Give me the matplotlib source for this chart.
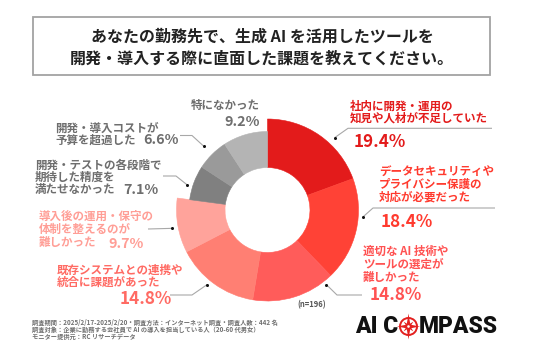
import numpy as np
import matplotlib
matplotlib.use('Agg')
import matplotlib.pyplot as plt
from matplotlib.patches import Wedge, Rectangle, Circle, Polygon

plt.rcParams['font.family'] = ['Noto Sans CJK JP', 'DejaVu Sans']

# ---------------- data ----------------
title_lines = ["あなたの勤務先で、生成 AI を活用したツールを",
               "開発・導入する際に直面した課題を教えてください。"]
categories = ["社内に開発・運用の\n知見や人材が不足していた",
              "データセキュリティや\nプライバシー保護の\n対応が必要だった",
              "適切な AI 技術や\nツールの選定が\n難しかった",
              "既存システムとの連携や\n統合に課題があった",
              "導入後の運用・保守の\n体制を整えるのが\n難しかった",
              "開発・テストの各段階で\n期待した精度を\n満たせなかった",
              "開発・導入コストが\n予算を超過した",
              "特になかった"]
values = [19.4, 18.4, 14.8, 14.8, 9.7, 7.1, 6.6, 9.2]
n_text = "(n=196)"
footer_lines = ["調査期間：2025/2/17-2025/2/20・調査方法：インターネット調査・調査人数：442 名",
                "調査対象：企業に勤務する会社員で AI の導入を担当している人（20-60 代男女）",
                "モニター提供元：RC リサーチデータ"]

# ---------------- style ----------------
slice_colors = ["#E31B1B", "#FF4236", "#FF5C5A", "#FF7F73", "#FFA39B",
                "#808080", "#9A9A9A", "#B4B4B4"]
text_colors = ["#E31B1B", "#FF3A2E", "#FF5252", "#FF6A63", "#FF9E96",
               "#6E6E6E", "#6E6E6E", "#6E6E6E"]
outer_r = [91, 91, 91, 91, 91, 78.5, 78.5, 78.5]
inner_r = 42.5
cx, cy = 267.5, 210

W, H = 536, 357
fig = plt.figure(figsize=(W / 100, H / 100), dpi=100)
fig.patch.set_facecolor("white")
ax = fig.add_axes([0, 0, 1, 1])
ax.set_xlim(0, W)
ax.set_ylim(H, 0)
ax.axis("off")

# title box
ax.add_patch(Rectangle((33, 17), 457, 58, fill=False, ec="#A3A3A3", lw=1.3))
for s, y in zip(title_lines, [36.5, 58.8]):
    ax.text(262, y, s, ha="center", va="center", fontsize=11.5,
            fontweight="bold", color="#222222")

# donut wedges (clockwise from 12 o'clock)
total = sum(values)
cum = np.concatenate([[0], np.cumsum(values)])
mids = []
for i, v in enumerate(values):
    a1 = cum[i] / total * 360.0
    a2 = cum[i + 1] / total * 360.0
    mids.append((a1 + a2) / 2)
    w = Wedge((cx, cy), outer_r[i], a1 - 90, a2 - 90,
              width=outer_r[i] - inner_r, fc=slice_colors[i],
              ec=slice_colors[i], lw=0.4)
    ax.add_patch(w)

# label layout: (x, ha, line y centers, pct x, pct y, pct size)
label_layout = [
    (350, "left", [106.7, 118.5], 354, 142, 12.3),
    (379, "left", [172.5, 184.8, 197.3], 381, 221.7, 12.3),
    (363, "left", [251.7, 264.3, 277.3], 370, 295, 12.3),
    (57, "left", [270.5, 282.5], 120, 299, 12.3),
    (39, "left", [216, 229.3, 242.7], 108, 244.5, 10.3),
    (35, "left", [165, 177.5, 190], 123, 190, 10.3),
    (55, "left", [128, 140.5], 143, 140.5, 10.3),
    (260, "right", [105.5], 260, 122, 10.3),
]
pct_ha = ["left"] * 7 + ["right"]

for i, (x, ha, ys, px, py, ps) in enumerate(label_layout):
    for s, y in zip(categories[i].split("\n"), ys):
        ax.text(x, y, s, ha=ha, va="center", fontsize=8.3, fontweight="bold",
                color=text_colors[i])
    ax.text(px, py, f"{values[i]:.1f}%", ha=pct_ha[i], va="center",
            fontsize=ps, fontweight="bold", color=text_colors[i])

# leader lines: dot angle offset, dot radius, elbow path
leader_layout = [
    (8, 99, [(348, 128.3), (492, 128.3)]),
    (-9, 96, [(373, 208), (495, 208)]),
    (-21, 95, [(337, 295), (362, 295)]),
    (3, 96, [(192, 295), (170, 295)]),
    (-1, 97, [(148, 229)]),
    (-3, 84, [(176, 176), (163, 176)]),
    (0, 90.5, [(192, 135.5), (180, 135.5)]),
]
for i, (da, rd, path) in enumerate(leader_layout):
    ang = np.deg2rad(mids[i] + da)
    dx, dy = cx + rd * np.sin(ang), cy - rd * np.cos(ang)
    xs = [dx] + [p[0] for p in path]
    ys = [dy] + [p[1] for p in path]
    ax.plot(xs, ys, color="#A8A8A8", lw=0.8, solid_capstyle="butt")
    ax.plot([dx], [dy], "o", color="#111111", ms=2.2, mec="none")

ax.text(312, 305, n_text, ha="center", va="center", fontsize=5.5,
        color="#555555", fontweight="bold")

for s, y in zip(footer_lines, [322.7, 329.5, 336.5]):
    ax.text(32, y, s, ha="left", va="center", fontsize=4.5, color="#707070",
            fontweight="bold")

# logo
ax.text(398, 326.5, "AI C", ha="right", va="center", fontsize=16.5,
        family="Roboto", fontweight="black", color="#111111")
ax.text(419, 326.5, "MPASS", ha="left", va="center", fontsize=16.5,
        family="Roboto", fontweight="black", color="#111111")
lc = (408.5, 326.5)
red = "#E3201F"
ax.add_patch(Circle(lc, 8.5, fill=False, ec=red, lw=1.4))
star = []
for k in range(8):
    a = np.deg2rad(k * 45)
    if k % 2 == 0:
        L = 13 if k in (0, 4) else 11.5
    else:
        L = 2.6
    star.append((lc[0] + L * np.sin(a), lc[1] - L * np.cos(a)))
ax.add_patch(Polygon(star, closed=True, fc=red, ec="none"))
star2 = []
for k in range(8):
    a = np.deg2rad(k * 45 + 45)
    L = 7 if k % 2 == 0 else 1.8
    star2.append((lc[0] + L * np.sin(a), lc[1] - L * np.cos(a)))
ax.add_patch(Polygon(star2, closed=True, fc=red, ec="none"))
ax.add_patch(Circle(lc, 1.3, fc="white", ec="none"))

fig.savefig("out.png", dpi=100, facecolor="white")
